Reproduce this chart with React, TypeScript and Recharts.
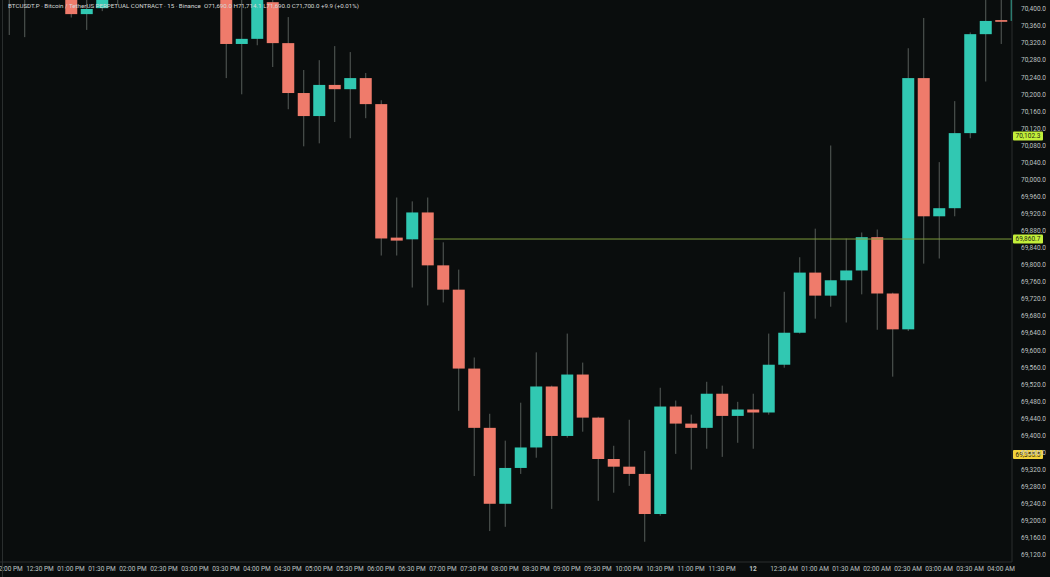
import React from 'react';
import { ComposedChart, Bar, XAxis, YAxis, ReferenceLine } from 'recharts';

// 15m candles, index 0 = 12:00 PM
const opens = [
  70445, 70460, 70480, 70500, 70470, 70388, 70402, 70450, 70490, 70520, 70500, 70470, 70510, 70490,
  70470, 70318, 70330, 70416, 70320, 70203, 70149, 70222, 70212, 70238, 70177, 69864, 69860, 69923,
  69799, 69742, 69557, 69418, 69240, 69324, 69372, 69515, 69399, 69543, 69442, 69345, 69327, 69310,
  69216, 69468, 69428, 69418, 69498, 69446, 69461, 69454, 69566, 69641, 69782, 69728, 69764, 69787,
  69865, 69733, 69649, 70238, 69914, 69933, 70109, 70341, 70374, 70372,
];
const highs = [
  70510, 70520, 70540, 70530, 70490, 70430, 70480, 70520, 70540, 70560, 70530, 70520, 70550, 70520,
  70490, 70430, 70450, 70422, 70381, 70257, 70280, 70313, 70299, 70250, 70186, 69958, 69949, 69958,
  69853, 69789, 69583, 69451, 69388, 69477, 69595, 69517, 69639, 69571, 69444, 69376, 69437, 69364,
  69512, 69482, 69449, 69526, 69517, 69479, 69498, 69639, 69737, 69818, 69885, 70080, 69862, 69876,
  69883, 69735, 70308, 70379, 70041, 70184, 70345, 70425, 70425, 70470,
];
const lows = [
  70339, 70334, 70440, 70450, 70380, 70351, 70395, 70412, 70460, 70480, 70450, 70440, 70470, 70445,
  70238, 70200, 70315, 70264, 70165, 70078, 70085, 70135, 70097, 70144, 69822, 69822, 69747, 69705,
  69712, 69458, 69305, 69176, 69186, 69310, 69348, 69228, 69395, 69409, 69247, 69266, 69282, 69151,
  69212, 69357, 69320, 69369, 69350, 69383, 69369, 69449, 69559, 69639, 69674, 69702, 69665, 69731,
  69648, 69538, 69645, 69803, 69815, 69914, 70097, 70230, 70318, 70360,
];
const closes = [
  70460, 70480, 70500, 70470, 70388, 70400, 70450, 70490, 70520, 70500, 70470, 70510, 70490, 70470,
  70318, 70330, 70430, 70320, 70203, 70149, 70222, 70212, 70238, 70177, 69862, 69857, 69923, 69799,
  69742, 69557, 69418, 69240, 69324, 69372, 69515, 69399, 69543, 69442, 69345, 69327, 69310, 69216,
  69468, 69428, 69418, 69498, 69446, 69461, 69454, 69566, 69641, 69782, 69728, 69764, 69787, 69865,
  69733, 69649, 70238, 69914, 69933, 70109, 70341, 70372, 70370, 70450,
];

// one label per 30 min (every 2nd candle)
const timeLabels = [
  '12:00 PM', '12:30 PM', '01:00 PM', '01:30 PM', '02:00 PM', '02:30 PM', '03:00 PM', '03:30 PM',
  '04:00 PM', '04:30 PM', '05:00 PM', '05:30 PM', '06:00 PM', '06:30 PM', '07:00 PM', '07:30 PM',
  '08:00 PM', '08:30 PM', '09:00 PM', '09:30 PM', '10:00 PM', '10:30 PM', '11:00 PM', '11:30 PM',
  '12', '12:30 AM', '01:00 AM', '01:30 AM', '02:00 AM', '02:30 AM', '03:00 AM', '03:30 AM', '04:00 AM',
];

const priceTicks = [
  69120, 69160, 69200, 69240, 69280, 69320, 69360, 69400, 69440, 69480, 69520, 69560, 69600, 69640,
  69680, 69720, 69760, 69800, 69840, 69880, 69920, 69960, 70000, 70040, 70080, 70120, 70160, 70200,
  70240, 70280, 70320, 70360, 70400,
];

const lastPrice = 70102.3;
const linePrice = 69860.7;
const alertPrice = 69355.5;

const BG = '#0a0d0d';
const TEAL = '#31c8b2';
const RED = '#ef7b6b';
const WICK = '#575d5a';
const TEXT = '#bfc3c2';
const BORDER = '#2a2e2e';
const FONT = 'Roboto, "Noto Sans", sans-serif';

const data = opens.map((o, i) => ({
  i,
  open: o,
  high: highs[i],
  low: lows[i],
  close: closes[i],
  range: [lows[i], highs[i]],
}));

const Candle = (props: any) => {
  const { x, y, width, height, payload } = props;
  if (payload == null) return null;
  const { open, close, high, low } = payload;
  const top = Math.min(y, y + height);
  const h = Math.abs(height);
  const ratio = h / (high - low || 1);
  const cx = x + width / 2;
  const bodyTop = top + (high - Math.max(open, close)) * ratio;
  const bodyH = Math.max(1.5, Math.abs(open - close) * ratio);
  const color = close >= open ? TEAL : RED;
  return (
    <g>
      <line x1={cx} x2={cx} y1={top} y2={top + h} stroke={WICK} strokeWidth={1} />
      <rect x={cx - 6} y={bodyTop} width={12} height={bodyH} fill={color} />
    </g>
  );
};

const TimeTick = (props: any) => {
  const { x, y, payload } = props;
  const label = timeLabels[payload.value / 2];
  return (
    <text
      x={x}
      y={y + 1}
      textAnchor="middle"
      fontSize={6.5}
      fontFamily={FONT}
      fontWeight={label === '12' ? 700 : 400}
      fill={TEXT}
    >
      {label}
    </text>
  );
};

const PriceTag = (props: any) => {
  const { viewBox, text, bg, fg } = props;
  if (!viewBox) return null;
  const left = viewBox.x + viewBox.width + 1;
  return (
    <g>
      <rect x={left} y={viewBox.y - 4.5} width={30} height={9} fill={bg} rx={1} />
      <text x={left + 2.5} y={viewBox.y + 2.3} fontSize={6.5} fontFamily={FONT} fill={fg}>
        {text}
      </text>
    </g>
  );
};

export default function App() {
  return (
    <div style={{ position: 'absolute', left: 0, top: 0, width: 1050, height: 577, background: BG, overflow: 'hidden' }}>
      <ComposedChart width={1050} height={577} data={data} margin={{ top: 0, right: 0, bottom: 0, left: 0 }}>
        <XAxis
          dataKey="i"
          type="number"
          domain={[-0.5806, 64.71]}
          allowDataOverflow
          ticks={timeLabels.map((_, k) => k * 2)}
          interval={0}
          height={15}
          tickLine={false}
          axisLine={{ stroke: BORDER }}
          tick={<TimeTick />}
        />
        <YAxis
          orientation="right"
          domain={[69103.5, 70421.1]}
          allowDataOverflow
          ticks={priceTicks}
          interval={0}
          width={38}
          tickLine={false}
          axisLine={{ stroke: BORDER }}
          tickMargin={3}
          tick={{ fontSize: 6.5, fontFamily: FONT, fill: TEXT, textAnchor: 'start' }}
          tickFormatter={(v: number) => v.toLocaleString('en-US', { minimumFractionDigits: 1, maximumFractionDigits: 1 })}
        />
        <ReferenceLine
          segment={[{ x: 27.35, y: linePrice }, { x: 64.71, y: linePrice }]}
          stroke="#7c9a3a"
          strokeWidth={1}
          ifOverflow="extendDomain"
        />
        <Bar dataKey="range" barSize={12} shape={<Candle />} isAnimationActive={false} />
        <ReferenceLine y={lastPrice} stroke="none" label={<PriceTag text="70,102.3" bg="#c3ef3a" fg="#1d2b12" />} />
        <ReferenceLine y={linePrice} stroke="none" label={<PriceTag text="69,860.7" bg="#c3ef3a" fg="#1d2b12" />} />
        <ReferenceLine y={alertPrice} stroke="none" label={<PriceTag text="69,355.5" bg="#f2d23c" fg="#2b2410" />} />
      </ComposedChart>
      <div style={{ position: 'absolute', left: 2, top: 0, width: 1, height: 577, background: BORDER }} />
      <div
        style={{
          position: 'absolute',
          left: 8,
          top: 2,
          fontFamily: FONT,
          fontSize: 6.2,
          color: '#d6d9d8',
          whiteSpace: 'pre',
        }}
      >
        {'BTCUSDT.P · Bitcoin / TetherUS PERPETUAL CONTRACT · 15 · Binance  O71,690.0 H71,714.1 L71,690.0 C71,700.0 +9.9 (+0.01%)'}
      </div>
    </div>
  );
}
